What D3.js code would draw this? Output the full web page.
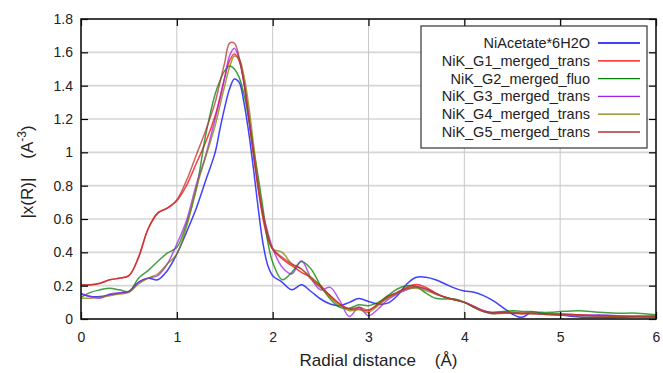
<!DOCTYPE html>
<html>
<head>
<meta charset="utf-8">
<script src="https://cdn.jsdelivr.net/npm/d3@7"></script>
<style>
  body { margin: 0; background: #fff; }
  text { font-family: "Liberation Sans", Arial, sans-serif; }
</style>
</head>
<body>
<div id="chart"></div>
<script>
// radial distance grid (Å)
const rValues = [
  0, 0.1, 0.2, 0.3, 0.4, 0.5, 0.6, 0.7, 0.8, 0.9,
  1.0, 1.1, 1.2, 1.3, 1.4, 1.45, 1.5, 1.55, 1.6, 1.65,
  1.7, 1.75, 1.8, 1.85, 1.9, 1.95, 2.0, 2.1, 2.2, 2.3,
  2.4, 2.5, 2.6, 2.7, 2.8, 2.9, 3.0, 3.1, 3.2, 3.3,
  3.4, 3.5, 3.6, 3.7, 3.8, 3.9, 4.0, 4.1, 4.2, 4.3,
  4.4, 4.5, 4.6, 4.7, 4.8, 4.9, 5.0, 5.2, 5.4, 5.6,
  5.8, 6.0
];

const niAcetate = [
  0.15, 0.135, 0.135, 0.145, 0.155, 0.165, 0.22, 0.245, 0.235, 0.29,
  0.39, 0.52, 0.66, 0.83, 1.0, 1.14, 1.27, 1.38, 1.44, 1.42,
  1.3, 1.12, 0.9, 0.66, 0.45, 0.32, 0.26, 0.22, 0.175, 0.205,
  0.165, 0.12, 0.09, 0.08, 0.1, 0.123, 0.105, 0.09, 0.095, 0.14,
  0.21, 0.25, 0.25, 0.235, 0.21, 0.185, 0.168, 0.16, 0.14, 0.11,
  0.07, 0.03, 0.01, 0.04, 0.035, 0.028, 0.024, 0.012, 0.01, 0.01,
  0.015, 0.018
];

const g1Trans = [
  0.205, 0.205, 0.215, 0.235, 0.245, 0.26, 0.37, 0.54, 0.635, 0.665,
  0.71, 0.8, 0.93, 1.06, 1.22, 1.33, 1.45, 1.55, 1.59, 1.55,
  1.42, 1.22, 1.0, 0.78, 0.6, 0.48, 0.42, 0.36, 0.32, 0.28,
  0.25, 0.2, 0.14, 0.09, 0.06, 0.06, 0.05, 0.09, 0.135, 0.16,
  0.19, 0.207, 0.19, 0.155, 0.13, 0.115, 0.1, 0.075, 0.05, 0.035,
  0.035, 0.035, 0.03, 0.035, 0.03, 0.03, 0.03, 0.025, 0.02, 0.015,
  0.012, 0.01
];

const g2Fluo = [
  0.13, 0.16, 0.175, 0.185, 0.175, 0.165, 0.245, 0.29, 0.345, 0.395,
  0.43, 0.57, 0.77, 1.1, 1.35, 1.43, 1.49, 1.518, 1.5, 1.45,
  1.35, 1.2, 1.02, 0.85, 0.66, 0.46, 0.34, 0.235, 0.28, 0.345,
  0.3, 0.2, 0.12, 0.07, 0.065, 0.085, 0.08, 0.1, 0.14, 0.18,
  0.2, 0.195, 0.155, 0.125, 0.12, 0.12, 0.1, 0.07, 0.045, 0.04,
  0.045, 0.05, 0.045, 0.045, 0.04, 0.04, 0.045, 0.05, 0.04, 0.035,
  0.035, 0.025
];

const g3Trans = [
  0.155, 0.135, 0.125, 0.15, 0.158, 0.165, 0.22, 0.245, 0.26, 0.33,
  0.45, 0.59, 0.8, 0.98, 1.2, 1.32, 1.45, 1.58, 1.625, 1.56,
  1.42, 1.22, 1.0, 0.8, 0.63, 0.52, 0.425, 0.31, 0.27, 0.35,
  0.245, 0.175, 0.19, 0.11, 0.015, 0.07, 0.02, 0.06, 0.115, 0.15,
  0.175, 0.19, 0.18, 0.15, 0.13, 0.115, 0.1, 0.075, 0.05, 0.035,
  0.04, 0.04, 0.035, 0.04, 0.03, 0.025, 0.025, 0.02, 0.025, 0.02,
  0.018, 0.016
];

const g4Trans = [
  0.125, 0.125, 0.13, 0.14, 0.15, 0.16, 0.21, 0.245, 0.27, 0.33,
  0.39, 0.55, 0.78, 0.97, 1.16, 1.28, 1.4, 1.51, 1.578, 1.56,
  1.46, 1.28, 1.05, 0.82, 0.62, 0.5, 0.42, 0.4, 0.33, 0.3,
  0.25, 0.19, 0.13, 0.08, 0.05, 0.055, 0.04, 0.08, 0.125, 0.155,
  0.18, 0.185, 0.17, 0.15, 0.13, 0.115, 0.1, 0.07, 0.045, 0.03,
  0.035, 0.04, 0.035, 0.04, 0.03, 0.025, 0.025, 0.02, 0.02, 0.015,
  0.015, 0.012
];

const g5Trans = [
  0.205, 0.205, 0.215, 0.235, 0.245, 0.26, 0.37, 0.54, 0.635, 0.665,
  0.715, 0.83, 0.98, 1.13, 1.3, 1.42, 1.54, 1.655, 1.655, 1.57,
  1.42, 1.2, 0.98, 0.78, 0.62, 0.5, 0.42, 0.37, 0.33, 0.3,
  0.24, 0.19, 0.14, 0.09, 0.06, 0.07, 0.055, 0.09, 0.13, 0.16,
  0.185, 0.195, 0.18, 0.155, 0.13, 0.115, 0.1, 0.07, 0.045, 0.035,
  0.04, 0.035, 0.035, 0.03, 0.03, 0.03, 0.03, 0.025, 0.02, 0.018,
  0.015, 0.012
];

const seriesNames = [
  "NiAcetate*6H2O",
  "NiK_G1_merged_trans",
  "NiK_G2_merged_fluo",
  "NiK_G3_merged_trans",
  "NiK_G4_merged_trans",
  "NiK_G5_merged_trans"
];
const seriesValues = [niAcetate, g1Trans, g2Fluo, g3Trans, g4Trans, g5Trans];
const seriesColors = ["#0000ff", "#ff0000", "#008000", "#a020f0", "#808000", "#b83232"];

const xTicks = [0, 1, 2, 3, 4, 5, 6];
const xTickLabels = ["0", "1", "2", "3", "4", "5", "6"];
const yTicks = [0, 0.2, 0.4, 0.6, 0.8, 1.0, 1.2, 1.4, 1.6, 1.8];
const yTickLabels = ["0", "0.2", "0.4", "0.6", "0.8", "1", "1.2", "1.4", "1.6", "1.8"];

const W = 663, H = 373;
const margin = {top: 19, right: 7, bottom: 54, left: 81};
const pw = W - margin.left - margin.right,
      ph = H - margin.top - margin.bottom;

const svg = d3.select("#chart").append("svg")
  .attr("width", W)
  .attr("height", H);

const g = svg.append("g")
  .attr("transform", "translate(" + margin.left + "," + margin.top + ")");

const x = d3.scaleLinear().domain([0, 6]).range([0, pw]);
const y = d3.scaleLinear().domain([0, 1.8]).range([ph, 0]);

// grid
g.append("g").selectAll("line")
  .data(yTicks.slice(1, -1))
  .enter().append("line")
    .attr("x1", 0).attr("x2", pw)
    .attr("y1", d => y(d)).attr("y2", d => y(d))
    .attr("stroke", "#d6d6d6")
    .attr("stroke-width", 1.6);

g.append("g").selectAll("line")
  .data(xTicks.slice(1, -1))
  .enter().append("line")
    .attr("y1", 0).attr("y2", ph)
    .attr("x1", d => x(d)).attr("x2", d => x(d))
    .attr("stroke", "#c8c8c8")
    .attr("stroke-width", 1);

// curves
g.append("clipPath").attr("id", "plotclip")
  .append("rect").attr("width", pw).attr("height", ph);

const line = d3.line()
  .x(d => x(d[0]))
  .y(d => y(d[1]))
  .curve(d3.curveCatmullRom.alpha(0.5));

const curves = g.append("g").attr("clip-path", "url(#plotclip)");
seriesValues.forEach((vals, i) => {
  curves.append("path")
    .datum(rValues.map((r, j) => [r, vals[j]]))
    .attr("fill", "none")
    .attr("stroke", seriesColors[i])
    .attr("stroke-width", 1.5)
    .attr("stroke-opacity", 0.75)
    .attr("d", line);
});

// axes with inward ticks
const xAxis = d3.axisBottom(x).tickValues(xTicks)
  .tickFormat((d, i) => xTickLabels[i]).tickSize(-7).tickPadding(13);
const yAxis = d3.axisLeft(y).tickValues(yTicks)
  .tickFormat((d, i) => yTickLabels[i]).tickSize(-7).tickPadding(8);

const gx = g.append("g").attr("transform", "translate(0," + ph + ")").call(xAxis);
const gy = g.append("g").call(yAxis);
const gt = g.append("g").call(d3.axisTop(x).tickValues(xTicks).tickFormat("").tickSize(-7));
const gr = g.append("g").attr("transform", "translate(" + pw + ",0)")
  .call(d3.axisRight(y).tickValues(yTicks).tickFormat("").tickSize(-7));

[gx, gy, gt, gr].forEach(a => {
  a.select(".domain").remove();
  a.selectAll(".tick line").attr("stroke", "#000").attr("stroke-width", 1.2);
  a.selectAll("text").attr("fill", "#222").style("font-size", "14px")
    .style("font-family", "'Liberation Sans', Arial, sans-serif");
});

// frame
g.append("rect")
  .attr("width", pw).attr("height", ph)
  .attr("fill", "none")
  .attr("stroke", "#111")
  .attr("stroke-width", 1.6);

// axis titles
svg.append("text")
  .attr("x", margin.left + pw / 2 + 10)
  .attr("y", 366)
  .attr("text-anchor", "middle")
  .attr("fill", "#222")
  .style("font-size", "17px")
  .style("white-space", "pre")
  .text("Radial distance    (Å)");

const ylab = svg.append("text")
  .attr("transform", "translate(33,172) rotate(-90)")
  .attr("text-anchor", "middle")
  .attr("fill", "#222")
  .style("font-size", "17px")
  .style("white-space", "pre");
ylab.append("tspan").text("|x(R)|    (A");
ylab.append("tspan").attr("baseline-shift", "super").style("font-size", "12px").text("-3");
ylab.append("tspan").text(")");

// legend
const lg = svg.append("g");
lg.append("rect")
  .attr("x", 421).attr("y", 26)
  .attr("width", 226).attr("height", 122)
  .attr("fill", "#fff")
  .attr("stroke", "#333")
  .attr("stroke-width", 1.2);

seriesNames.forEach((name, i) => {
  const cy = 43 + i * 17.8;
  lg.append("text")
    .attr("x", 590).attr("y", cy + 5)
    .attr("text-anchor", "end")
    .attr("fill", "#222")
    .style("font-size", "14.5px")
    .text(name);
  lg.append("line")
    .attr("x1", 598).attr("x2", 640)
    .attr("y1", cy).attr("y2", cy)
    .attr("stroke", seriesColors[i])
    .attr("stroke-width", 1.3);
});
</script>
</body>
</html>
